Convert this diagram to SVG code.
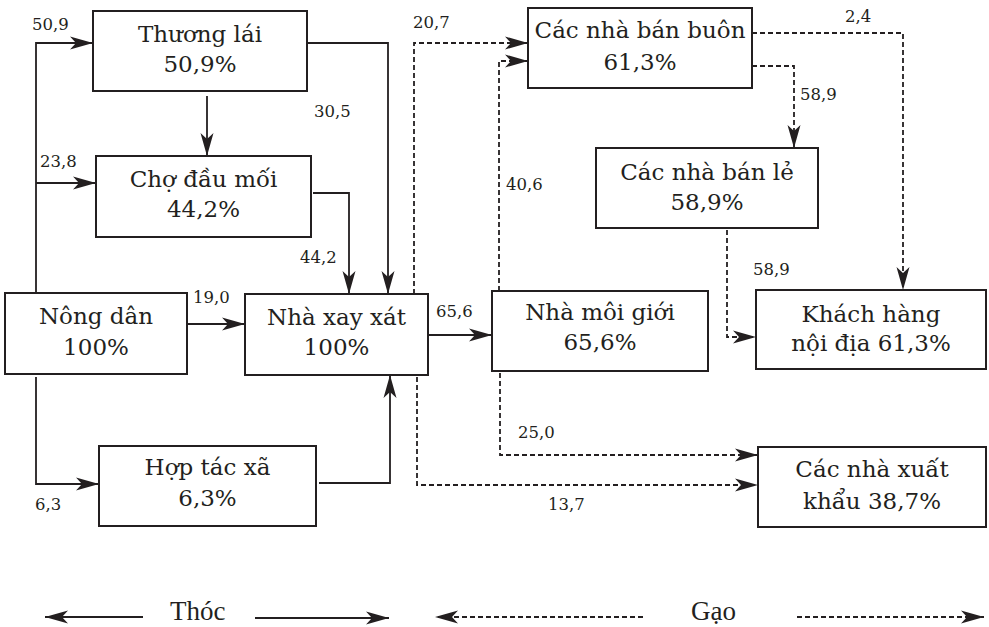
<svg xmlns="http://www.w3.org/2000/svg" width="989" height="627" viewBox="0 0 989 627">
<style>
.box{fill:#fff;stroke:#231f20;stroke-width:2}
.t{font-family:"DejaVu Serif","Liberation Serif",serif;font-size:23px;fill:#231f20;text-anchor:middle}
.lb{font-family:"DejaVu Serif","Liberation Serif",serif;font-size:16.5px;fill:#231f20}
.lg{font-family:"Liberation Serif","DejaVu Serif",serif;font-size:27px;fill:#231f20}
.s{fill:none;stroke:#231f20;stroke-width:1.8;marker-end:url(#ah)}
.d{fill:none;stroke:#231f20;stroke-width:1.8;stroke-dasharray:5,3;marker-end:url(#ah)}
</style>
<defs>
<marker id="ah" markerUnits="userSpaceOnUse" markerWidth="24" markerHeight="14" refX="23" refY="7" orient="auto-start-reverse">
<path d="M0,0.5 L23,7 L0,13.5 L6,7 z" fill="#231f20"/>
</marker>
</defs>
<g id="connectors">
<path class="s" d="M36,293 V43 H93"/>
<path class="s" d="M36,183 H96"/>
<path class="s" d="M207,96 V156"/>
<path class="s" d="M307,43 H388 V294"/>
<path class="s" d="M313,193 H349 V294"/>
<path class="s" d="M187,324 H245"/>
<path class="s" d="M36,377 V484 H99"/>
<path class="s" d="M319,483 H390 V375"/>
<path class="s" d="M428,335 H492"/>
<path class="d" d="M414,294 V43 H528"/>
<path class="d" d="M499,291 V61 H528"/>
<path class="d" d="M752,33 H903 V290"/>
<path class="d" d="M752,66 H794 V148"/>
<path class="d" d="M727,230 V337 H756"/>
<path class="d" d="M500,373 V455 H758"/>
<path class="d" d="M417,377 V485 H758"/>
</g>
<g id="edge-labels">
<text class="lb" x="32" y="30">50,9</text>
<text class="lb" x="40" y="167">23,8</text>
<text class="lb" x="314" y="117">30,5</text>
<text class="lb" x="300" y="263">44,2</text>
<text class="lb" x="193" y="303">19,0</text>
<text class="lb" x="35" y="510">6,3</text>
<text class="lb" x="436" y="317">65,6</text>
<text class="lb" x="413" y="28">20,7</text>
<text class="lb" x="506" y="190">40,6</text>
<text class="lb" x="845" y="22">2,4</text>
<text class="lb" x="800" y="100">58,9</text>
<text class="lb" x="753" y="275">58,9</text>
<text class="lb" x="518" y="438">25,0</text>
<text class="lb" x="548" y="510">13,7</text>
</g>
<g id="thuong-lai"><rect class="box" x="93" y="11" width="214" height="80"/><text class="t" x="200" y="42">Thương lái</text><text class="t" x="200" y="72">50,9%</text></g>
<g id="cho-dau-moi"><rect class="box" x="96" y="156" width="215" height="81"/><text class="t" x="203.5" y="187">Chợ đầu mối</text><text class="t" x="203.5" y="217">44,2%</text></g>
<g id="nong-dan"><rect class="box" x="5" y="293" width="182" height="81"/><text class="t" x="96" y="324">Nông dân</text><text class="t" x="96" y="355">100%</text></g>
<g id="nha-xay-xat"><rect class="box" x="245" y="294" width="183" height="81"/><text class="t" x="336.5" y="325">Nhà xay xát</text><text class="t" x="336.5" y="355">100%</text></g>
<g id="hop-tac-xa"><rect class="box" x="99" y="446" width="217" height="80"/><text class="t" x="207.5" y="475">Hợp tác xã</text><text class="t" x="207.5" y="506">6,3%</text></g>
<g id="ban-buon"><rect class="box" x="528" y="8" width="224" height="80"/><text class="t" x="640" y="38">Các nhà bán buôn</text><text class="t" x="640" y="70">61,3%</text></g>
<g id="ban-le"><rect class="box" x="596" y="148" width="222" height="80"/><text class="t" x="707" y="180">Các nhà bán lẻ</text><text class="t" x="707" y="210">58,9%</text></g>
<g id="moi-gioi"><rect class="box" x="492" y="291" width="216" height="80"/><text class="t" x="600" y="320">Nhà môi giới</text><text class="t" x="600" y="350">65,6%</text></g>
<g id="khach-hang"><rect class="box" x="756" y="290" width="230" height="79"/><text class="t" x="871" y="322">Khách hàng</text><text class="t" x="871" y="351">nội địa 61,3%</text></g>
<g id="xuat-khau"><rect class="box" x="758" y="447" width="228" height="80"/><text class="t" x="872" y="477">Các nhà xuất</text><text class="t" x="872" y="509">khẩu 38,7%</text></g>
<g id="legend">
<path class="s" d="M143,617 H45"/>
<text class="lg" x="170" y="620">Thóc</text>
<path class="s" d="M255,618 H389"/>
<path class="d" d="M643,617 H435"/>
<text class="lg" x="691" y="620">Gạo</text>
<path class="d" d="M797,617 H984"/>
</g>
</svg>
